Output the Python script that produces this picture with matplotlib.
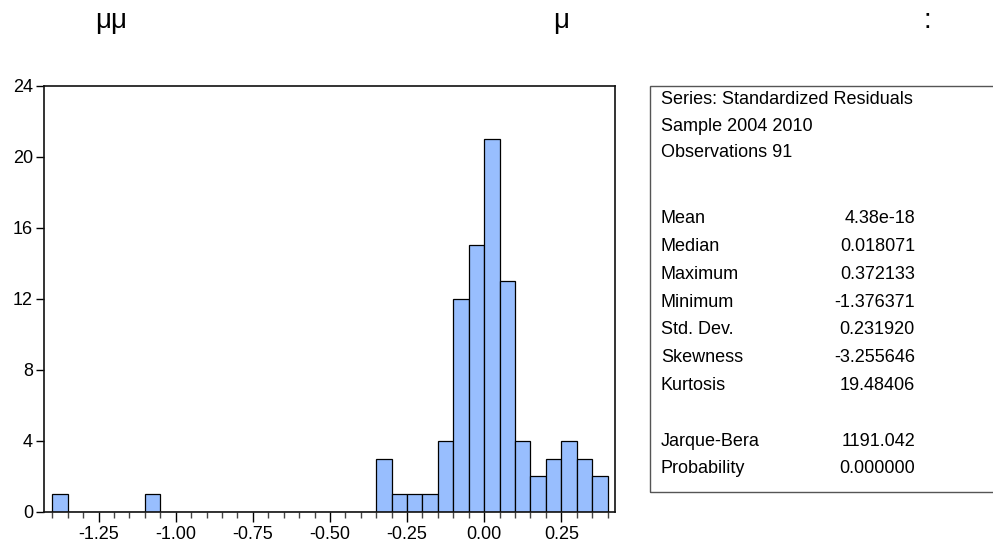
import matplotlib
matplotlib.use("Agg")
import matplotlib.pyplot as plt
from matplotlib.ticker import FixedLocator
from matplotlib.patches import Rectangle

# ---------------- data ----------------
bin_starts = [-1.40, -1.35, -1.30, -1.25, -1.20, -1.15, -1.10, -1.05, -1.00, -0.95,
              -0.90, -0.85, -0.80, -0.75, -0.70, -0.65, -0.60, -0.55, -0.50, -0.45,
              -0.40, -0.35, -0.30, -0.25, -0.20, -0.15, -0.10, -0.05, 0.00, 0.05,
              0.10, 0.15, 0.20, 0.25, 0.30, 0.35]
counts = [1, 0, 0, 0, 0, 0, 1, 0, 0, 0,
          0, 0, 0, 0, 0, 0, 0, 0, 0, 0,
          0, 3, 1, 1, 1, 4, 12, 15, 21, 13,
          4, 2, 3, 4, 3, 2]
bin_width = 0.05

x_ticks = [-1.25, -1.00, -0.75, -0.50, -0.25, 0.00, 0.25]
x_tick_labels = ["-1.25", "-1.00", "-0.75", "-0.50", "-0.25", "0.00", "0.25"]
y_ticks = [0, 4, 8, 12, 16, 20, 24]

header_lines = ["Series: Standardized Residuals", "Sample 2004 2010", "Observations 91"]
stat_names = ["Mean", "Median", "Maximum", "Minimum", "Std. Dev.", "Skewness", "Kurtosis"]
stat_values = ["4.38e-18", "0.018071", "0.372133", "-1.376371", "0.231920", "-3.255646", "19.48406"]
test_names = ["Jarque-Bera", "Probability"]
test_values = ["1191.042", "0.000000"]

top_texts = ["μμ", "μ", ":"]

# ---------------- figure ----------------
W, H = 993, 545
fig = plt.figure(figsize=(W / 100, H / 100), dpi=100)
plt.rcParams['font.family'] = ['Liberation Sans', 'DejaVu Sans']

def fx(px):
    return px / W

def fy(py):
    return 1 - py / H

ax_l, ax_r, ax_t, ax_b = 43.5, 615, 85.5, 512
ax = fig.add_axes([fx(ax_l), fy(ax_b), fx(ax_r - ax_l), (ax_b - ax_t) / H])

ax.bar(bin_starts, counts, width=bin_width, align='edge',
       color='#98BEFE', edgecolor='black', linewidth=0.9, zorder=2)

ax.set_xlim(-1.4285, 0.424)
ax.set_ylim(0, 24)

ax.xaxis.set_major_locator(FixedLocator(x_ticks))
ax.set_xticklabels(x_tick_labels)
ax.xaxis.set_minor_locator(FixedLocator(bin_starts + [0.40]))
ax.yaxis.set_major_locator(FixedLocator(y_ticks))
ax.set_yticklabels([str(v) for v in y_ticks])

ax.tick_params(axis='x', which='major', direction='out', length=7, width=1.0,
               pad=3, labelsize=13, colors='black')
ax.tick_params(axis='x', which='minor', direction='out', length=4, width=1.0,
               color='#444444')
ax.tick_params(axis='y', which='major', direction='out', length=5.5, width=1.0,
               pad=2, labelsize=13)
for s in ax.spines.values():
    s.set_linewidth(1.2)
    s.set_color('#111111')

# ---------------- stats box ----------------
box_l, box_t, box_b = 650, 86, 492
fig.patches.append(Rectangle((fx(box_l), fy(box_b)), fx(W + 20 - box_l), (box_b - box_t) / H,
                             transform=fig.transFigure, fill=False,
                             edgecolor='#555555', linewidth=1.0))

label_x = 661
value_x = 915
fs = 13
header_base = [104, 131, 157.5]
for txt, b in zip(header_lines, header_base):
    fig.text(fx(label_x), fy(b), txt, fontsize=fs, ha='left', va='baseline')

stat_base = [223.3, 251, 278.8, 306.6, 334.4, 362.2, 390]
for n, v, b in zip(stat_names, stat_values, stat_base):
    fig.text(fx(label_x), fy(b), n, fontsize=fs, ha='left', va='baseline')
    fig.text(fx(value_x), fy(b), v, fontsize=fs, ha='right', va='baseline')

test_base = [445.7, 473.3]
for n, v, b in zip(test_names, test_values, test_base):
    fig.text(fx(label_x), fy(b), n, fontsize=fs, ha='left', va='baseline')
    fig.text(fx(value_x), fy(b), v, fontsize=fs, ha='right', va='baseline')

# ---------------- top line of symbols ----------------
top_x = [111, 561, 927]
for t, x in zip(top_texts, top_x):
    fig.text(fx(x), fy(28), t, fontsize=20, ha='center', va='baseline')

fig.savefig("out.png", dpi=100)
